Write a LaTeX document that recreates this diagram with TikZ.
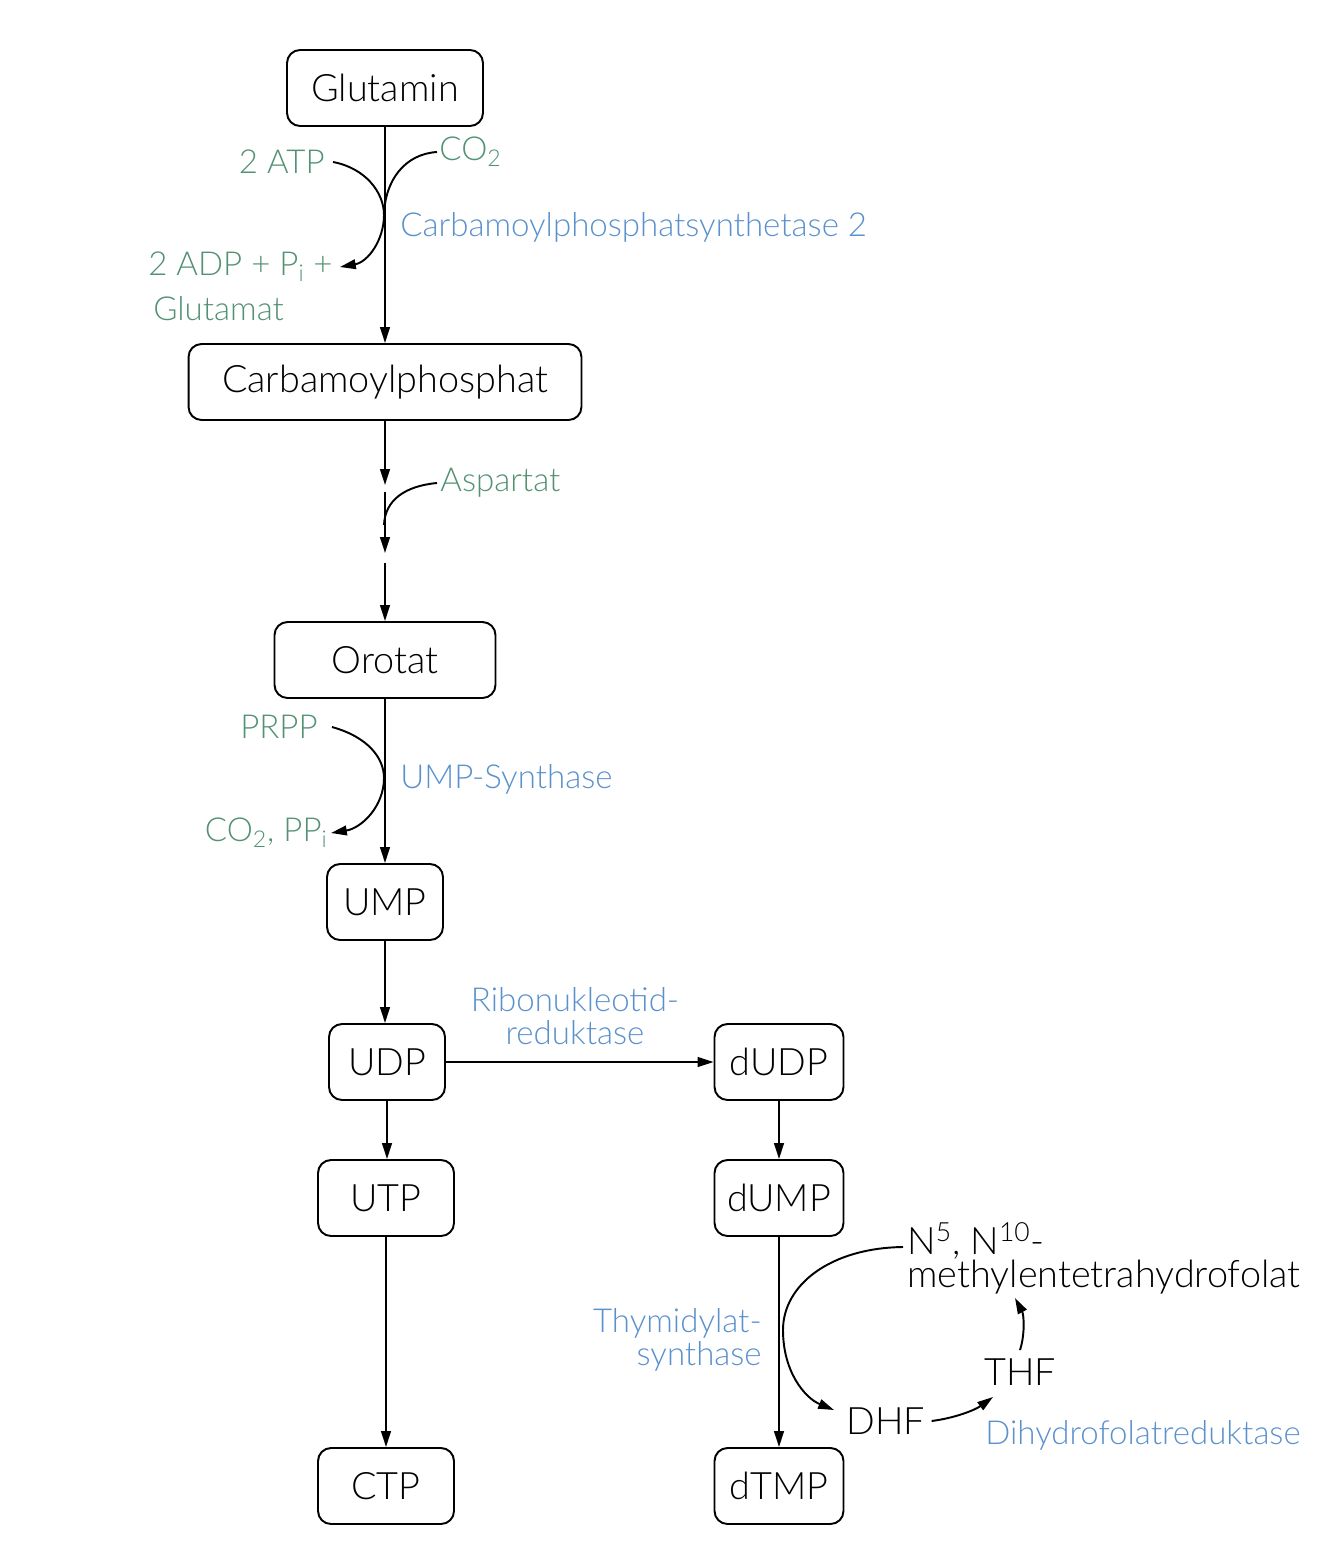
\documentclass[tikz,border=0pt]{standalone}
\usepackage{fontspec}
\setmainfont{Lato Light}
\usetikzlibrary{arrows.meta}
\definecolor{grn}{RGB}{83,145,115}
\definecolor{blu}{RGB}{90,145,205}
\tikzset{
  box/.style={draw, rounded corners=0.26cm, line width=1.1pt, minimum height=1.52cm, inner sep=0pt, font=\fontsize{21.5}{24}\selectfont},
  arr/.style={line width=1.1pt, -{Triangle[length=9pt,width=5.5pt]}},
  ln/.style={line width=1.1pt},
  gtxt/.style={inner sep=0pt, text=grn, font=\fontsize{18.8}{19.2}\selectfont},
  btxt/.style={inner sep=0pt, text=blu, font=\fontsize{18.8}{19.2}\selectfont},
  ktxt/.style={inner sep=0pt, font=\fontsize{21.5}{18.7}\selectfont},
}
\begin{document}
\begin{tikzpicture}[x=0.02cm,y=-0.02cm]
\useasboundingbox (0,0) rectangle (1344,1548);
% boxes
\node[box, minimum width=3.92cm] (glu) at (385,88) {Glutamin};
\node[box, minimum width=7.86cm] (carb) at (385,382) {Carbamoylphosphat};
\node[box, minimum width=4.42cm] (oro) at (385,660) {Orotat};
\node[box, minimum width=2.32cm] (ump) at (385,902) {UMP};
\node[box, minimum width=2.32cm] (udp) at (387,1062) {UDP};
\node[box, minimum width=2.72cm] (utp) at (386,1198) {UTP};
\node[box, minimum width=2.72cm] (ctp) at (386,1486) {CTP};
\node[box, minimum width=2.58cm] (dudp) at (779,1062) {dUDP};
\node[box, minimum width=2.58cm] (dump) at (779,1198) {dUMP};
\node[box, minimum width=2.58cm] (dtmp) at (779,1486) {dTMP};
% labels
\node[gtxt, anchor=east] (atp) at (325,162) {2 ATP};
\node[gtxt, anchor=west] (co2) at (439,152) {CO\textsubscript{2}};
\node[btxt, anchor=west] (cps) at (400,227) {Carbamoylphosphatsynthetase 2};
\node[gtxt, anchor=east] (adp) at (333,267) {2 ADP + P\textsubscript{i} +};
\node[gtxt, anchor=west] (gluta) at (153,309) {Glutamat};
\node[gtxt, anchor=west] (asp) at (440,483) {Aspartat};
\node[gtxt, anchor=east] (prpp) at (318,727) {PRPP};
\node[btxt, anchor=west] (umps) at (400,779) {UMP-Synthase};
\node[gtxt, anchor=east] (copp) at (328,833) {CO\textsubscript{2}, PP\textsubscript{i}};
\node[btxt, align=center] (rnr) at (575,1016) {Ribonukleotid-\\reduktase};
\node[btxt, align=right, anchor=east] (ts) at (762,1340) {Thymidylat-\\synthase};
\node[ktxt, align=left, anchor=west] (fol) at (907,1258) {N\textsuperscript{5}, N\textsuperscript{10}-\\methylentetrahydrofolat};
\node[ktxt] (dhf) at (886,1421) {DHF};
\node[ktxt] (thf) at (1020,1372) {THF};
\node[btxt, anchor=west] (dhfr) at (985,1435) {Dihydrofolatreduktase};
% coordinates
\coordinate (j1) at (384,215);
\coordinate (a1) at (385,485);
\coordinate (a2) at (385,492);
\coordinate (a3) at (385,553);
\coordinate (a4) at (385,563);
\coordinate (j2) at (384,525);
\coordinate (j3) at (384,778);
\coordinate (j4) at (783,1330);
\coordinate (folin) at (903,1247);
\coordinate (dhfin) at (834,1410);
\coordinate (thfin) at (993,1397);
\coordinate (thfout) at (1020,1350);
\coordinate (folback) at (1015,1298);
% main arrows
\draw[arr] (glu) -- (carb);
\draw[arr] (carb.south) -- (a1);
\draw[arr] (a2) -- (a3);
\draw[arr] (a4) -- (oro.north);
\draw[arr] (oro) -- (ump);
\draw[arr] (ump.south) -- (ump.south |- udp.north);
\draw[arr] (udp.south) -- (udp.south |- utp.north);
\draw[arr] (utp) -- (ctp);
\draw[arr] (udp) -- (dudp);
\draw[arr] (dudp) -- (dump);
\draw[arr] (dump) -- (dtmp);
% side curves
\draw[arr] ([xshift=0.16cm]atp.east) .. controls (365,168) and (384,192) .. (j1) .. controls (384,240) and (368,262) .. ([xshift=0.14cm]adp.east);
\draw[ln] ([xshift=-0.04cm]co2.west) .. controls (405,154) and (385,180) .. (j1);
\draw[ln] ([xshift=-0.06cm]asp.west) .. controls (405,486) and (385,500) .. (j2);
\draw[arr] ([xshift=0.28cm]prpp.east) .. controls (368,737) and (384,758) .. (j3) .. controls (384,806) and (362,828) .. ([xshift=0.06cm]copp.east);
% folate cycle
\draw[arr] (folin) .. controls (830,1248) and (783,1285) .. (j4) .. controls (783,1372) and (805,1398) .. (dhfin);
\draw[arr] ([xshift=0.12cm]dhf.east) .. controls (955,1418) and (975,1410) .. (thfin);
\draw[arr] (thfout) .. controls (1025,1335) and (1024,1315) .. (folback);
\end{tikzpicture}
\end{document}
